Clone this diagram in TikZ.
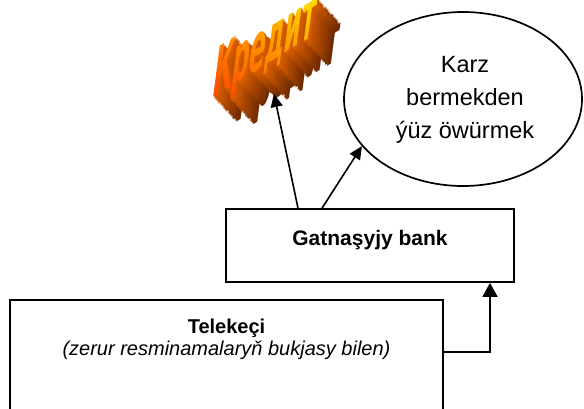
\documentclass[tikz,border=0pt]{standalone}
\usepackage{fontspec}
\setmainfont{Liberation Sans}
\newfontfamily\wafont{DejaVu Sans}
\usetikzlibrary{arrows.meta,shapes.geometric}
\definecolor{extfar}{HTML}{6A2800}
\definecolor{extnear}{HTML}{D85C00}
\definecolor{faceRed}{HTML}{FF4400}
\definecolor{faceYel}{HTML}{FFE000}
\begin{document}
\begin{tikzpicture}[x=1pt,y=-1pt,
  box/.style={draw, rectangle, inner sep=0pt, line width=1.7pt},
  lbl/.style={inner sep=0pt, align=center},
  arr/.style={-{Triangle[length=13pt,width=12pt]}, line width=1.6pt},
  arrbig/.style={-{Triangle[length=14pt,width=15pt]}, line width=1.7pt},
  wordart/.style={transform shape, xscale=0.93, yscale=2.35, anchor=base west, inner sep=0pt,
     font=\wafont\bfseries\fontsize{30}{30}\selectfont}]
\useasboundingbox (0,0) rectangle (584,408);
\clip (0,0) rectangle (584,408);

% WordArt "Кредит": extrusion
\foreach \i in {20,...,1}{
  \pgfmathsetmacro{\p}{100-(\i-1)*5}
  \begin{scope}[shift={(211+1.15*\i,99+1.25*\i)}, cm={0.847,0.525,0.129,0.992,(0,0)}]
    \node[wordart, text=extnear!\p!extfar] at (0,0) {Кредит};
  \end{scope}
}
% WordArt front face, banded gradient
\foreach \k in {0,...,15}{
  \pgfmathsetmacro{\ca}{5+\k*10}
  \pgfmathsetmacro{\cb}{\ca+11}
  \pgfmathsetmacro{\q}{100-\k*6.5}
  \begin{scope}
    \clip (150,75-\ca) -- (400,200-\ca) -- (400,200-\cb) -- (150,75-\cb) -- cycle;
    \begin{scope}[shift={(211,99)}, cm={0.847,0.525,0.129,0.992,(0,0)}]
      \node[wordart, text=faceRed!\q!faceYel] at (0,0) {Кредит};
    \end{scope}
  \end{scope}
}
\begin{scope}[shift={(211,99)}, cm={0.847,0.525,0.129,0.992,(0,0)}]
  \node[wordart, text opacity=0] (kredit) at (0,0) {Кредит};
\end{scope}

% Ellipse
\node[draw, ellipse, minimum width=238pt, minimum height=174pt, inner sep=0pt, line width=1.7pt] (ell) at (463,99) {};
\node[lbl, font=\fontsize{23.5}{33}\selectfont] (elltxt) at (465,100) {Karz\\bermekden\\ýüz öwürmek};

% Bank box
\node[box, minimum width=288pt, minimum height=73pt] (bank) at (370,245.5) {};
\node[lbl, anchor=base, font=\bfseries\fontsize{21}{25}\selectfont] (banktxt) at (370,245) {Gatnaşyjy bank};

% Telekeci box
\node[box, minimum width=433pt, minimum height=130pt] (tel) at (226.5,365) {};
\node[lbl, anchor=base, font=\bfseries\fontsize{20}{22}\selectfont] (teltitle) at (226.5,333) {Telekeçi};
\node[lbl, anchor=base, font=\itshape\fontsize{20}{22}\selectfont] (telsub) at (226.5,355) {(zerur resminamalaryň bukjasy bilen)};

% Connectors
\coordinate (kt) at (274,94);
\coordinate (c1) at (490,352);
\draw[arr] ([xshift=-72pt]bank.north) -- (kt);
\draw[arr] ([xshift=-48pt]bank.north) -- (ell.205);
\draw[arrbig] (tel.east |- c1) -- (c1) -- (bank.south -| c1);
\end{tikzpicture}
\end{document}
